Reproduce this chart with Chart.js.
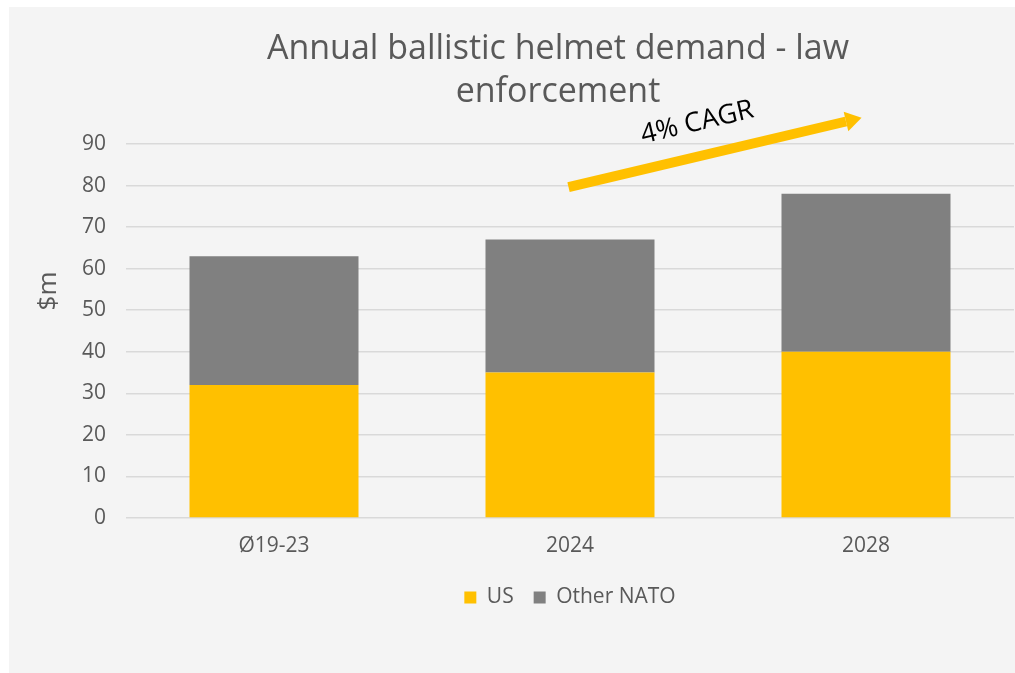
<!DOCTYPE html>
<html>
<head>
<meta charset="utf-8">
<script src="https://cdn.jsdelivr.net/npm/chart.js@4/dist/chart.umd.min.js"></script>
<style>
  body { margin: 0; background: #ffffff; }
  #wrap { position: absolute; left: 9px; top: 7px; width: 1006px; height: 666px; background: #f4f4f4; }
</style>
</head>
<body>
<div id="wrap"><canvas id="helmetChart"></canvas></div>
<script>
// chart data
var categories = ["Ø19-23", "2024", "2028"];
var usValues = [32, 35, 40];
var otherNatoValues = [31, 32, 38];
var seriesNames = ["US", "Other NATO"];
var titleLines = ["Annual ballistic helmet demand - law", "enforcement"];
var yAxisLabel = "$m";
var cagrLabel = "4% CAGR";

var textGray = "#595959";
var fontName = "'Open Sans', sans-serif";

// draws title, axis label and the CAGR arrow
var extrasPlugin = {
    id: "extras",
    afterDraw: function (chart) {
        var ctx = chart.ctx;
        var xs = chart.scales.x;
        var ys = chart.scales.y;
        ctx.save();

        // title
        ctx.fillStyle = textGray;
        ctx.font = "34px " + fontName;
        ctx.textAlign = "center";
        ctx.textBaseline = "middle";
        ctx.fillText(titleLines[0], 549, 42);
        ctx.fillText(titleLines[1], 549, 85);

        // y axis title
        ctx.save();
        ctx.translate(40, 284);
        ctx.rotate(-Math.PI / 2);
        ctx.font = "26px " + fontName;
        ctx.fillText(yAxisLabel, 0, 0);
        ctx.restore();

        // arrow
        var x1 = xs.getPixelForValue(0.995), y1 = ys.getPixelForValue(79.6);
        var x2 = xs.getPixelForValue(1.985), y2 = ys.getPixelForValue(96.3);
        var ang = Math.atan2(y2 - y1, x2 - x1);
        var headLen = 16;
        var bx = x2 - headLen * Math.cos(ang), by = y2 - headLen * Math.sin(ang);
        ctx.strokeStyle = "#ffc000";
        ctx.lineWidth = 10;
        ctx.beginPath();
        ctx.moveTo(x1, y1);
        ctx.lineTo(bx, by);
        ctx.stroke();
        ctx.fillStyle = "#ffc000";
        ctx.beginPath();
        ctx.moveTo(x2, y2);
        ctx.lineTo(bx + 10 * Math.sin(ang), by - 10 * Math.cos(ang));
        ctx.lineTo(bx - 10 * Math.sin(ang), by + 10 * Math.cos(ang));
        ctx.closePath();
        ctx.fill();

        // CAGR text
        ctx.translate(xs.getPixelForValue(1.43), ys.getPixelForValue(95.1));
        ctx.rotate(ang);
        ctx.fillStyle = "#000000";
        ctx.font = "27px " + fontName;
        ctx.fillText(cagrLabel, 0, 0);
        ctx.restore();
    }
};

new Chart("helmetChart", {
    type: "bar",
    data: {
        labels: categories,
        datasets: [{
            label: seriesNames[0],
            data: usValues,
            backgroundColor: "#ffc000",
            categoryPercentage: 1,
            barPercentage: 0.571
        }, {
            label: seriesNames[1],
            data: otherNatoValues,
            backgroundColor: "#808080",
            categoryPercentage: 1,
            barPercentage: 0.571
        }]
    },
    options: {
        responsive: true,
        maintainAspectRatio: false,
        animation: false,
        layout: { padding: { left: 0, right: 1, top: 137, bottom: 55 } },
        plugins: {
            tooltip: { enabled: false },
            title: { display: false },
            legend: {
                display: true,
                position: "bottom",
                fullSize: false,
                labels: {
                    boxWidth: 12,
                    boxHeight: 12,
                    padding: 20,
                    color: textGray,
                    font: { family: fontName, size: 21 }
                }
            }
        },
        scales: {
            x: {
                stacked: true,
                grid: { display: false, drawTicks: false },
                border: { display: false },
                ticks: { color: textGray, padding: 15, font: { family: fontName, size: 21 } },
                afterFit: function (scale) { scale.height = 49; }
            },
            y: {
                stacked: true,
                min: 0,
                max: 90,
                grid: { color: "#d9d9d9", lineWidth: 1.5, drawTicks: false },
                border: { display: false },
                ticks: { stepSize: 10, color: textGray, padding: 20, font: { family: fontName, size: 21 } },
                afterFit: function (scale) { scale.width = 117; }
            }
        }
    },
    plugins: [extrasPlugin]
});
</script>
</body>
</html>
